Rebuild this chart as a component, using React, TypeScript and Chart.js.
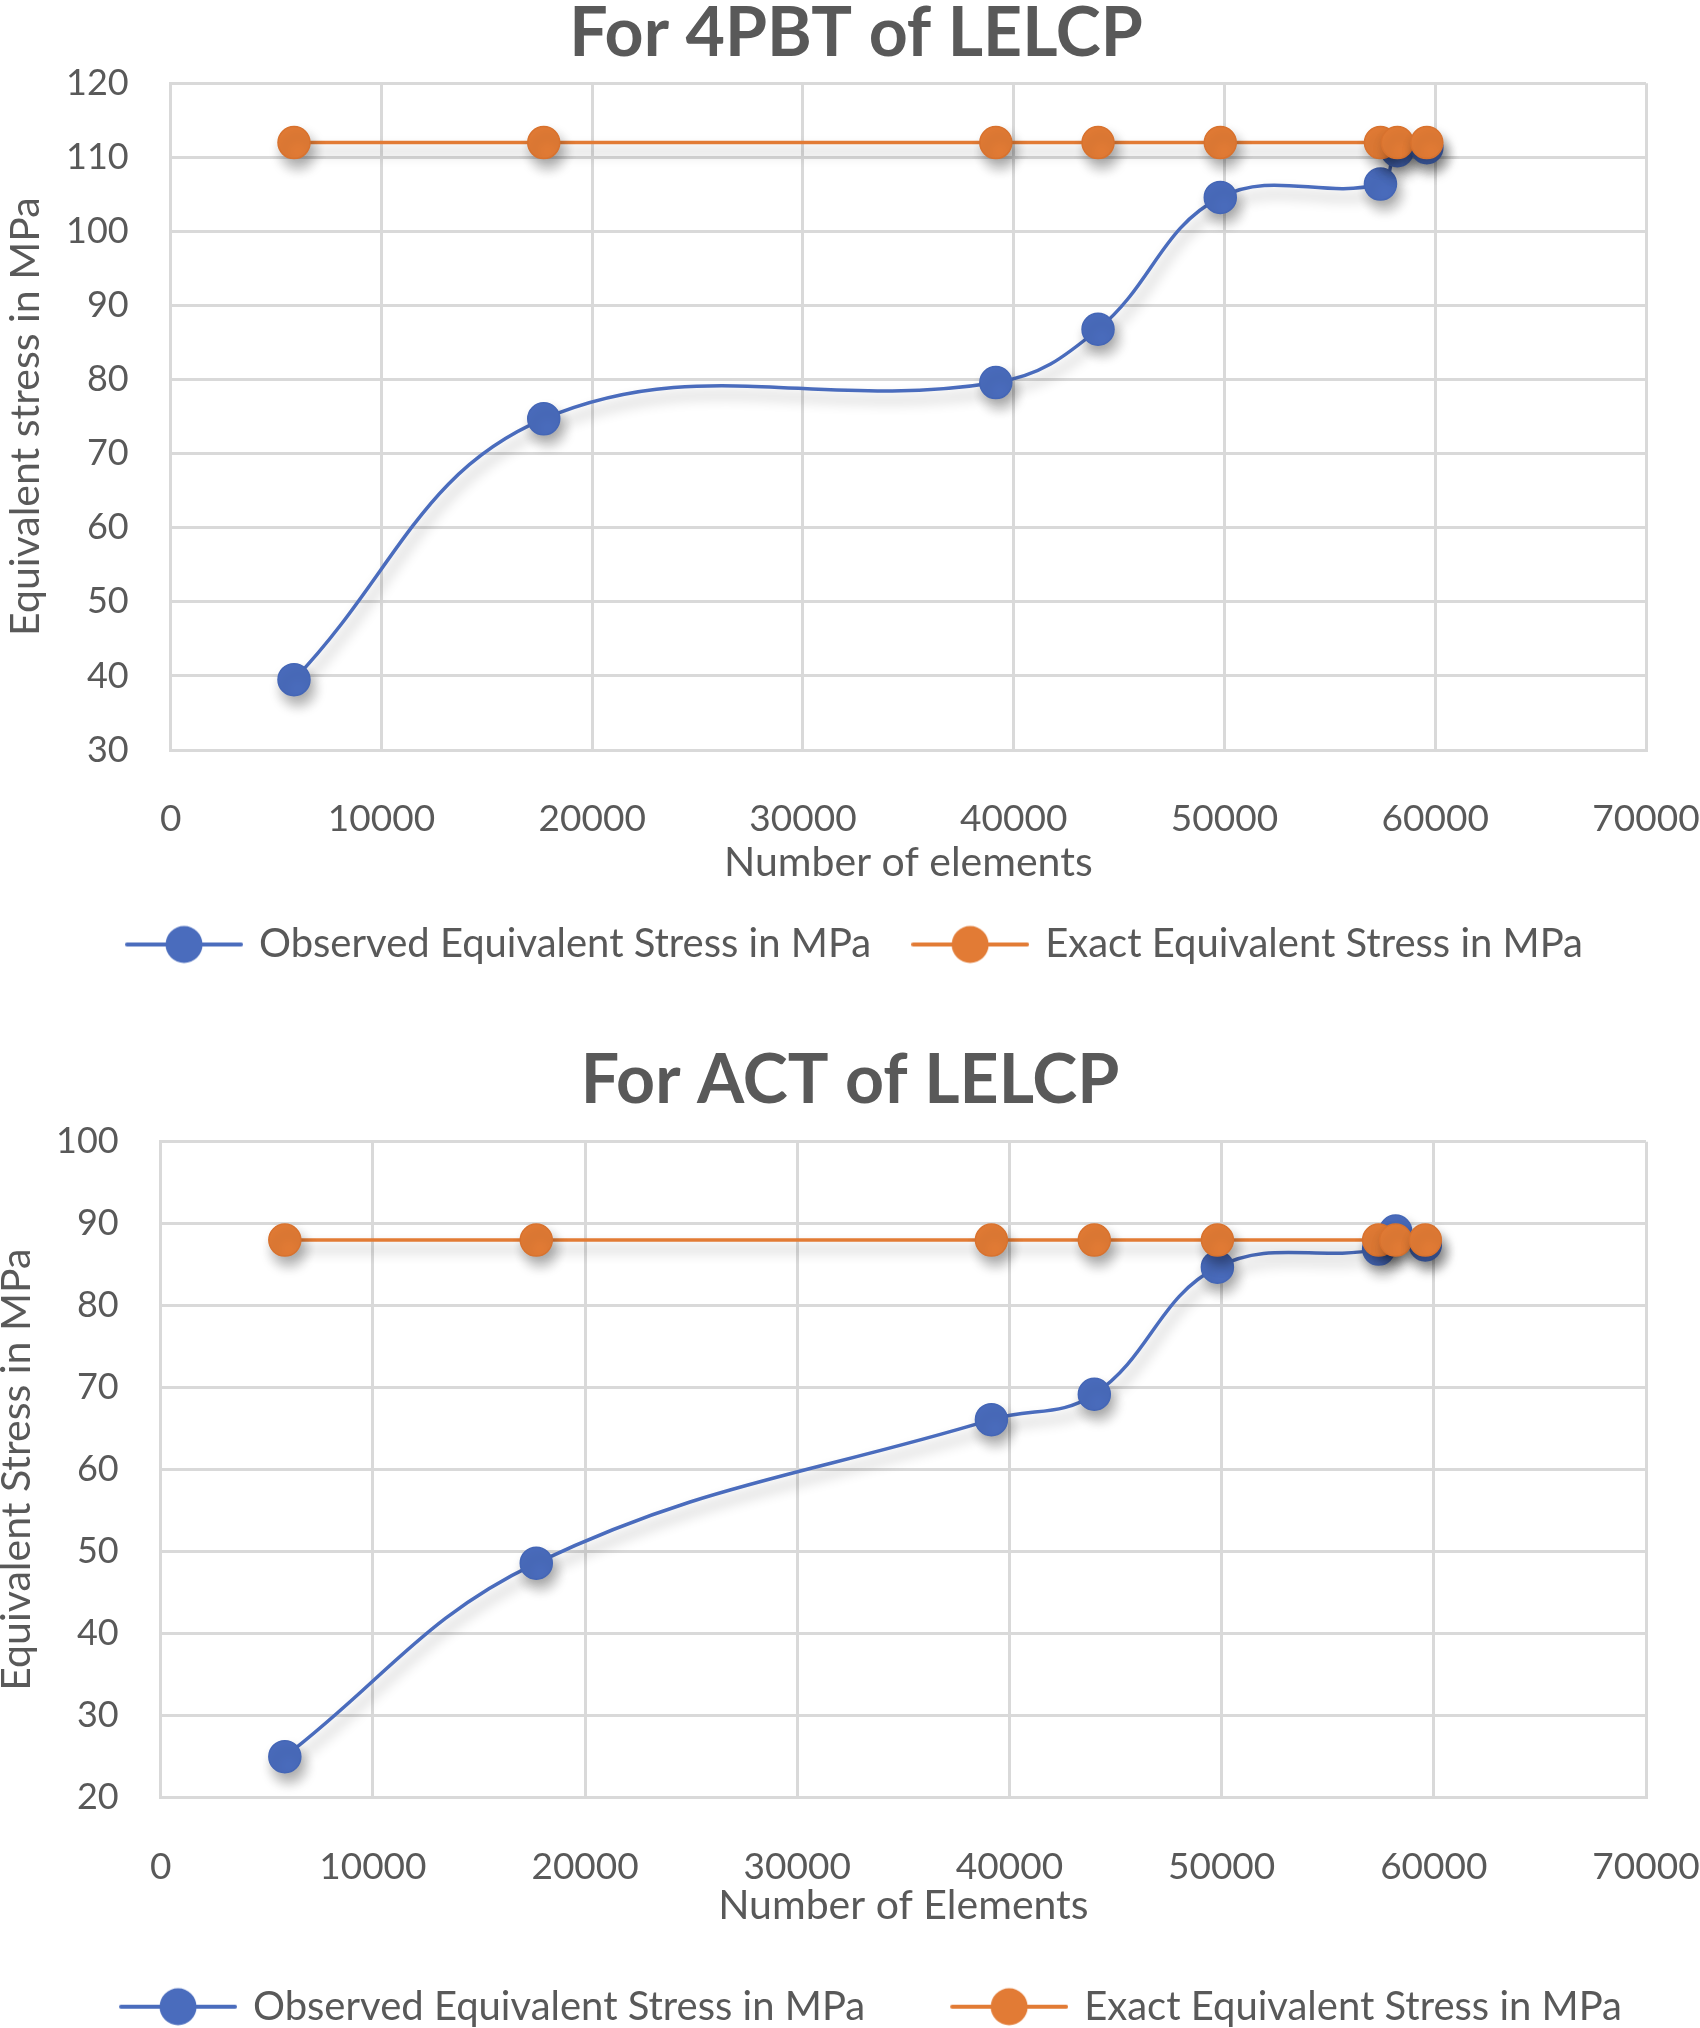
import React, { useEffect, useRef } from 'react'
import { Chart, registerables } from 'chart.js'

Chart.register(...registerables)

// number of elements used in every mesh, shared by both studies
const elements = [5850, 17700, 39150, 44000, 49800, 57400, 58200, 59600]

// four point bending test
const observed4pbt = [39.5, 74.7, 79.6, 86.8, 104.6, 106.4, 110.9, 111.3]
const exact4pbt = [112, 112, 112, 112, 112, 112, 112, 112]

// axial compression test
const observedAct = [25, 48.6, 66.1, 69.2, 84.7, 86.9, 89.1, 87.4]
const exactAct = [88, 88, 88, 88, 88, 88, 88, 88]

const xTicks = [0, 10000, 20000, 30000, 40000, 50000, 60000, 70000]
const yTicks4pbt = [30, 40, 50, 60, 70, 80, 90, 100, 110, 120]
const yTicksAct = [20, 30, 40, 50, 60, 70, 80, 90, 100]

const seriesNames = ['Observed Equivalent Stress in MPa', 'Exact Equivalent Stress in MPa']

const BLUE = '#4a6cbd'
const BLUE_EDGE = '#4466b6'
const ORANGE = '#e27b35'
const ORANGE_EDGE = '#d8722e'
const TEXT = '#595959'
const GRID = '#d9d9d9'
const FONT = 'Lato'

// Excel style legend key: a short line with the marker in the middle,
// optionally with some empty room on its left
function legendKey(color: string, gap: number) {
  const c = document.createElement('canvas')
  c.width = 118 + gap
  c.height = 40
  const g = c.getContext('2d')!
  g.strokeStyle = color
  g.lineWidth = 4
  g.lineCap = 'round'
  g.beginPath()
  g.moveTo(gap + 2, 20)
  g.lineTo(gap + 116, 20)
  g.stroke()
  g.fillStyle = color
  g.beginPath()
  g.arc(gap + 59, 20, 18.5, 0, Math.PI * 2)
  g.fill()
  return c
}

const shadowPlugin = {
  id: 'lineShadow',
  beforeDatasetDraw(chart: any) {
    const ctx = chart.ctx
    ctx.save()
    ctx.shadowColor = 'rgba(0, 0, 0, 0.33)'
    ctx.shadowBlur = 13
    ctx.shadowOffsetX = 4
    ctx.shadowOffsetY = 9
  },
  afterDatasetDraw(chart: any) {
    chart.ctx.restore()
  },
}

interface Box {
  height: number
  padLeft: number
  padBottom: number
  titleTop: number
  titleBottom: number
  yWidth: number
  yTitleShift: number
  xHeight: number
  xTitleBottom: number
  keyGap: number
}

interface PanelProps {
  title: string
  xLabel: string
  yLabel: string
  observed: number[]
  exact: number[]
  yTicks: number[]
  box: Box
}

function StressPanel({ title, xLabel, yLabel, observed, exact, yTicks, box }: PanelProps) {
  const canvasRef = useRef<HTMLCanvasElement>(null)

  useEffect(() => {
    if (!canvasRef.current) return
    const keys = [legendKey(BLUE, box.keyGap), legendKey(ORANGE, box.keyGap)]

    const chart = new Chart(canvasRef.current, {
      type: 'line',
      data: {
        datasets: [
          {
            label: seriesNames[0],
            data: elements.map((x, i) => ({ x, y: observed[i] })),
            borderColor: BLUE,
            backgroundColor: BLUE,
            pointBackgroundColor: BLUE,
            pointBorderColor: BLUE_EDGE,
            borderWidth: 3.5,
            pointRadius: 16,
            pointBorderWidth: 1.5,
            tension: 0.4,
            order: 2,
          },
          {
            label: seriesNames[1],
            data: elements.map((x, i) => ({ x, y: exact[i] })),
            borderColor: ORANGE,
            backgroundColor: ORANGE,
            pointBackgroundColor: ORANGE,
            pointBorderColor: ORANGE_EDGE,
            borderWidth: 3.5,
            pointRadius: 16,
            pointBorderWidth: 1.5,
            tension: 0,
            order: 1,
          },
        ],
      },
      options: {
        responsive: false,
        animation: false,
        layout: { padding: { left: box.padLeft, right: 0, top: 0, bottom: box.padBottom } },
        plugins: {
          title: {
            display: true,
            text: title,
            color: TEXT,
            font: { family: FONT, size: 68, weight: 'bold', lineHeight: 1 },
            padding: { top: box.titleTop, bottom: box.titleBottom },
          },
          legend: {
            position: 'bottom',
            labels: {
              usePointStyle: true,
              pointStyleWidth: 110 + box.keyGap,
              color: TEXT,
              font: { family: FONT, size: 40 },
              padding: 44,
              sort: (a: any, b: any) => a.datasetIndex - b.datasetIndex,
              generateLabels: (c: any) =>
                Chart.defaults.plugins.legend.labels
                  .generateLabels(c)
                  .map((item: any) => ({ ...item, pointStyle: keys[item.datasetIndex] })),
            },
          },
          tooltip: { enabled: false },
        },
        scales: {
          x: {
            type: 'linear',
            min: xTicks[0],
            max: xTicks[xTicks.length - 1],
            afterBuildTicks: (s: any) => {
              s.ticks = xTicks.map((value) => ({ value }))
            },
            afterFit: (s: any) => {
              // room on the right of the plot for the last tick label
              s.height = box.xHeight
              s.paddingLeft = 0
              s.paddingRight = 54
            },
            ticks: {
              color: TEXT,
              font: { family: FONT, size: 37 },
              padding: 47,
              maxRotation: 0,
              autoSkip: false,
              callback: (v: any) => String(v),
            },
            grid: { color: GRID, lineWidth: 3, drawTicks: false },
            border: { display: true, color: GRID, width: 3 },
            title: {
              display: true,
              text: xLabel,
              color: TEXT,
              font: { family: FONT, size: 41 },
              padding: { top: 0, bottom: box.xTitleBottom },
            },
          },
          y: {
            min: yTicks[0],
            max: yTicks[yTicks.length - 1],
            afterBuildTicks: (s: any) => {
              s.ticks = yTicks.map((value) => ({ value }))
            },
            afterFit: (s: any) => {
              s.width = box.yWidth
            },
            ticks: {
              color: TEXT,
              font: { family: FONT, size: 36 },
              padding: 42,
            },
            grid: { color: GRID, lineWidth: 3, drawTicks: false },
            border: { display: true, color: GRID, width: 3 },
            title: {
              display: true,
              text: yLabel,
              color: TEXT,
              font: { family: FONT, size: 41 },
              padding: { top: box.yTitleShift, bottom: 0 },
            },
          },
        },
      },
      plugins: [shadowPlugin],
    } as any)

    return () => chart.destroy()
  }, [title, xLabel, yLabel, observed, exact, yTicks, box])

  return (
    <div style={{ width: 1700, height: box.height }}>
      <canvas ref={canvasRef} width={1700} height={box.height} style={{ display: 'block' }} />
    </div>
  )
}

const box4pbt: Box = {
  height: 1014,
  padLeft: 12,
  padBottom: 39.5,
  titleTop: 0,
  titleBottom: 15.3,
  yWidth: 158.7,
  yTitleShift: -10.6,
  xHeight: 130.5,
  xTitleBottom: -7.1,
  keyGap: 0,
}

const boxAct: Box = {
  height: 1060,
  padLeft: 0,
  padBottom: 37.3,
  titleTop: 33,
  titleBottom: 26.7,
  yWidth: 160.7,
  yTitleShift: -7.6,
  xHeight: 145,
  xTitleBottom: 12.3,
  keyGap: 45,
}

export default function App() {
  useEffect(() => {
    document.body.style.margin = '0'
    document.body.style.overflow = 'hidden'
  }, [])

  return (
    <div style={{ position: 'absolute', left: 0, top: 0, width: 1700, height: 2028, overflow: 'hidden', background: '#fff' }}>
      <StressPanel
        title="For 4PBT of LELCP"
        xLabel="Number of elements"
        yLabel="Equivalent stress in MPa"
        observed={observed4pbt}
        exact={exact4pbt}
        yTicks={yTicks4pbt}
        box={box4pbt}
      />
      <StressPanel
        title="For ACT of LELCP"
        xLabel="Number of Elements"
        yLabel="Equivalent Stress in MPa"
        observed={observedAct}
        exact={exactAct}
        yTicks={yTicksAct}
        box={boxAct}
      />
    </div>
  )
}
